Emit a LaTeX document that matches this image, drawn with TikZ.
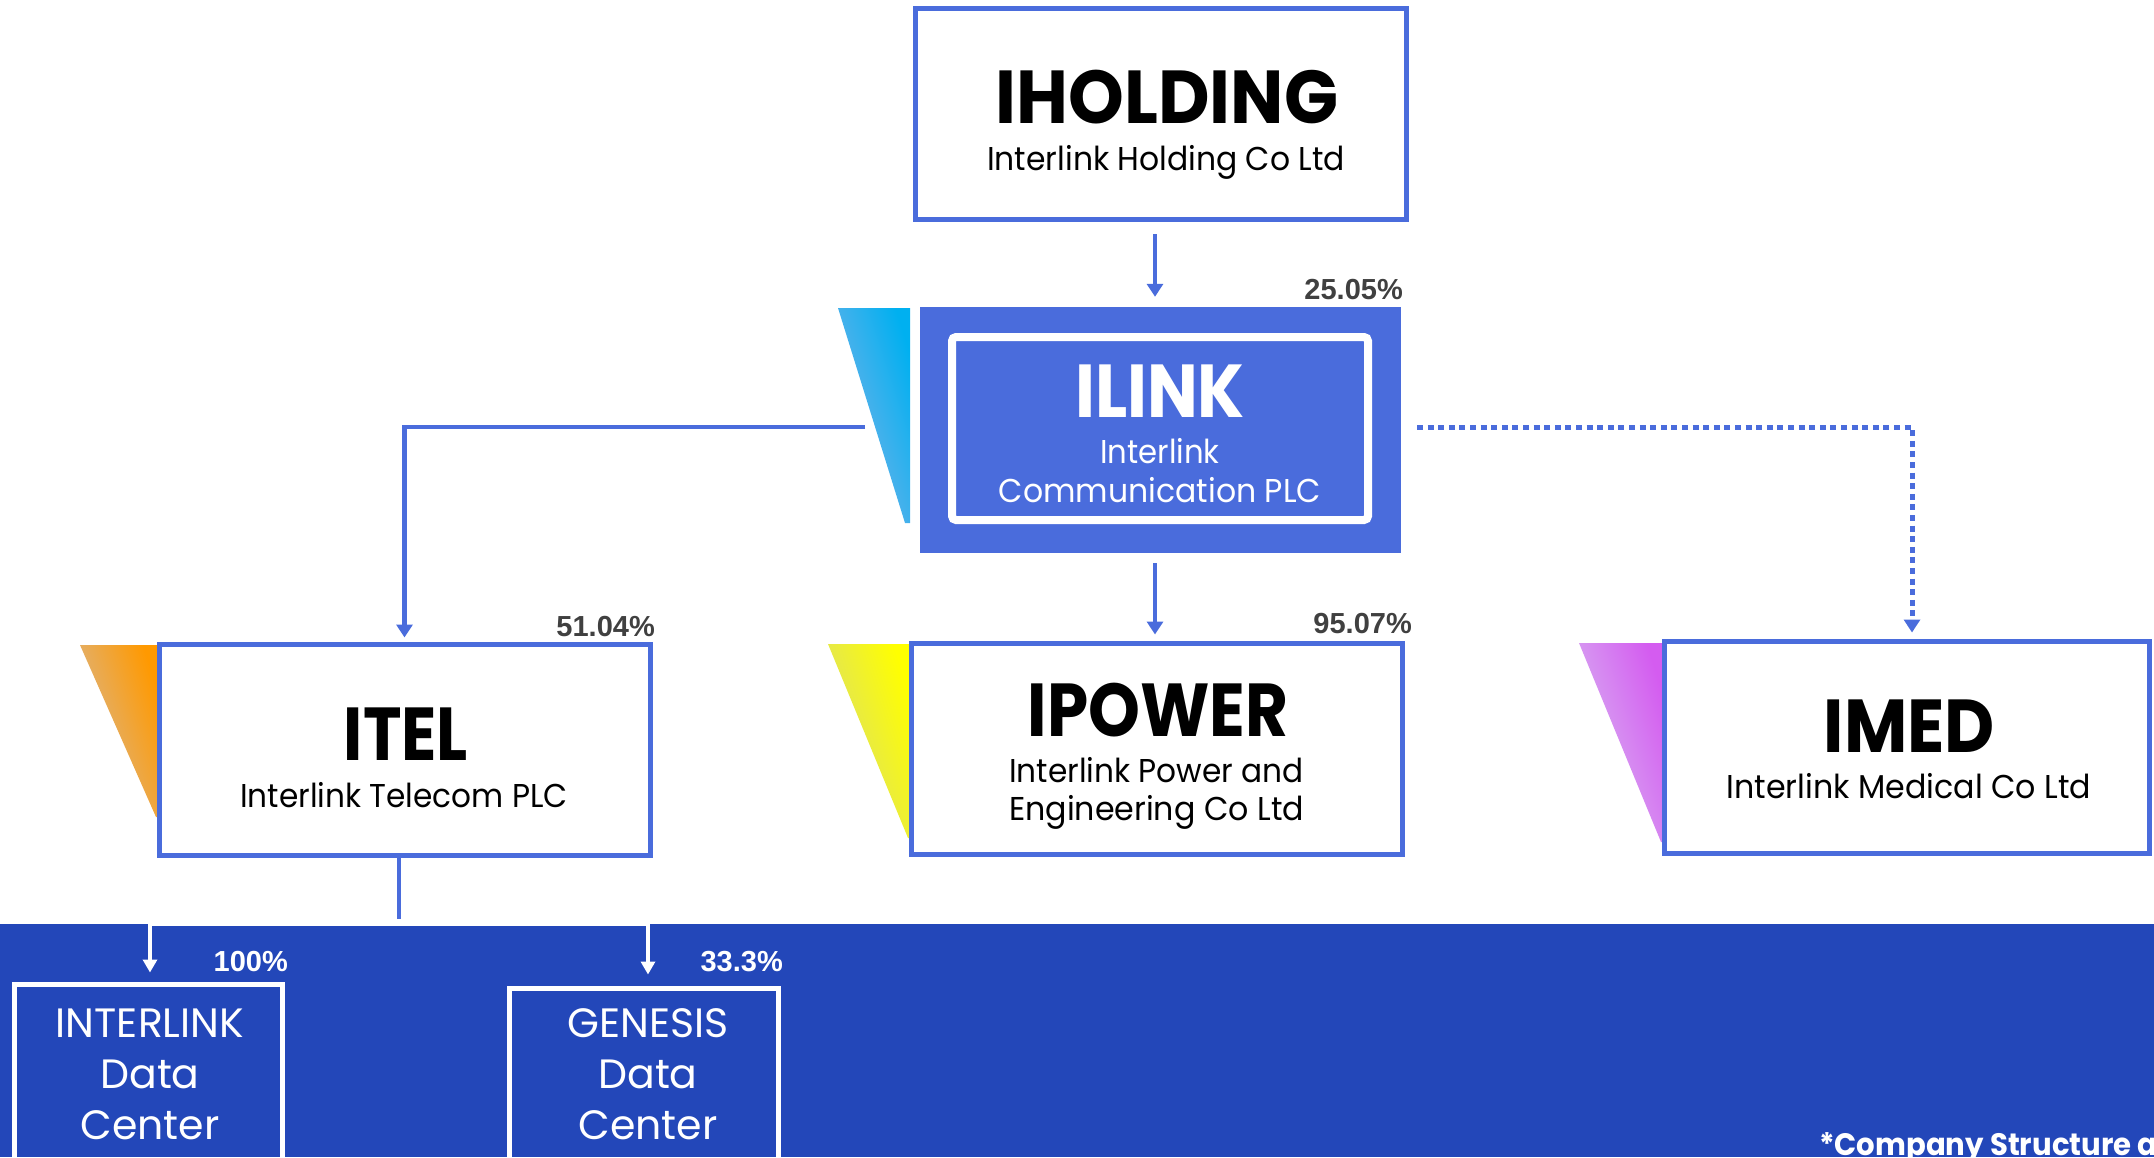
\documentclass[tikz,border=0pt]{standalone}
\usepackage{fontspec}
\usetikzlibrary{arrows.meta}
\newfontfamily\gfont{Poppins}
\newfontfamily\hfont{Liberation Sans}
\definecolor{boxblue}{RGB}{74,108,220}
\definecolor{bandblue}{RGB}{35,71,185}
\definecolor{pctgray}{RGB}{64,64,64}
\newcommand\hsc[2]{\scalebox{#1}[1]{#2}}
\tikzset{
  orgbox/.style={draw=boxblue, line width=5pt, fill=white, minimum width=491pt, minimum height=211pt, inner sep=0pt},
  dcbox/.style={draw=white, line width=5pt, minimum height=300pt, inner sep=0pt},
  title/.style={font=\gfont\bfseries\fontsize{75}{75}\selectfont, anchor=base, inner sep=0pt},
  sub/.style={font=\gfont\fontsize{33}{33}\selectfont, anchor=base, inner sep=0pt},
  dctext/.style={font=\gfont\fontsize{41}{41}\selectfont, text=white, anchor=base, inner sep=0pt},
  pct/.style={font=\hfont\bfseries\fontsize{29}{29}\selectfont, text=pctgray, anchor=base east, inner sep=0pt},
  conn/.style={draw=boxblue, line width=4.5pt, -{Triangle[width=16pt,length=13pt]}},
  dotconn/.style={draw=boxblue, line width=5pt, dash pattern=on 6pt off 4.6pt, -{Triangle[width=16pt,length=13pt]}},
  wconn/.style={draw=white, line width=3.5pt, -{Triangle[width=14pt,length=13pt]}},
  wedge/.style n args={2}{top color=#2, bottom color=#1, shading angle=-72},
}
\begin{document}
\begin{tikzpicture}[x=1pt,y=-1pt]
\useasboundingbox (0,0) rectangle (2154,1157);
% bottom band
\fill[bandblue] (0,924) rectangle (2154,1157);
% gradient wedges
\shade[wedge={{rgb,255:red,130;green,178;blue,232}}{{rgb,255:red,0;green,176;blue,240}}] (838,308) -- (910,308) -- (910,523) -- (905,523) -- cycle;
\shade[wedge={{rgb,255:red,214;green,186;blue,156}}{{rgb,255:red,255;green,153;blue,0}}] (80,645) -- (157,645) -- (157,817) -- (156,817) -- cycle;
\shade[wedge={{rgb,255:red,214;green,218;blue,120}}{{rgb,255:red,255;green,255;blue,0}}] (828,644) -- (909,644) -- (909,838) -- (908,838) -- cycle;
\shade[wedge={{rgb,255:red,216;green,188;blue,242}}{{rgb,255:red,212;green,92;blue,240}}] (1579,643) -- (1662,643) -- (1662,842) -- (1661,842) -- cycle;
% boxes
\node[orgbox] (ihold) at (1161,114) {};
\node[fill=boxblue, minimum width=481pt, minimum height=246pt, inner sep=0pt] (ilink) at (1160.5,430) {};
\node[draw=white, line width=8pt, rounded corners=4pt, minimum width=416pt, minimum height=183pt, inner sep=0pt] (ilinkin) at (1160,428.5) {};
\node[orgbox] (itel) at (404.5,750) {};
\node[orgbox] (ipower) at (1157,749) {};
\node[orgbox, minimum width=485pt, minimum height=212pt] (imed) at (1907,747.5) {};
\node[dcbox, minimum width=268pt] (idc) at (148.5,1134.5) {};
\node[dcbox, minimum width=269pt] (gdc) at (644,1138.5) {};
% texts
\node[title] (t1) at (1167,123) {\hsc{0.946}{IHOLDING}};
\node[sub] (s1) at (1166,170) {\hsc{0.952}{Interlink Holding Co Ltd}};
\node[title, text=white] (t2) at (1160,417) {\hsc{0.9}{ILINK}};
\node[sub, text=white] (s2a) at (1160,463) {\hsc{0.93}{Interlink}};
\node[sub, text=white] (s2b) at (1160,502) {\hsc{0.955}{Communication PLC}};
\node[title] (t3) at (406,760) {\hsc{0.87}{ITEL}};
\node[sub] (s3) at (404,807) {\hsc{0.944}{Interlink Telecom PLC}};
\node[title] (t4) at (1158,736) {\hsc{0.88}{IPOWER}};
\node[sub] (s4a) at (1156.5,782) {\hsc{0.945}{Interlink Power and}};
\node[sub] (s4b) at (1156.5,820) {\hsc{0.96}{Engineering Co Ltd}};
\node[title] (t5) at (1909.5,752) {\hsc{0.92}{IMED}};
\node[sub] (s5) at (1909,798) {\hsc{0.96}{Interlink Medical Co Ltd}};
\node[dctext] (d1a) at (150,1037) {INTERLINK};
\node[dctext] (d1b) at (150,1088) {Data};
\node[dctext] (d1c) at (150,1139) {Center};
\node[dctext] (d2a) at (648,1037) {GENESIS};
\node[dctext] (d2b) at (648,1088) {Data};
\node[dctext] (d2c) at (648,1139) {Center};
% percentages
\node[pct] (p1) at (1403,299) {25.05\%};
\node[pct] (p2) at (655,636) {51.04\%};
\node[pct] (p3) at (1412,633) {95.07\%};
\node[pct, text=white] (p4) at (288,971) {100\%};
\node[pct, text=white] (p5) at (783,971) {33.3\%};
\node[font=\gfont\bfseries\fontsize{31}{31}\selectfont, text=white, anchor=base west, inner sep=0pt] (note) at (1819,1155) {\hsc{0.94}{*Company Structure a}};
% connectors
\coordinate (lk) at (865,427);
\coordinate (dt) at (1417,427);
\coordinate (stubend) at (399,919);
\coordinate (bus) at (399,924);
\draw[conn] ([xshift=-6pt,yshift=-12pt]ihold.south) -- ([xshift=-5.5pt,yshift=10pt]ilink.north);
\draw[conn] (lk) -| ([yshift=4.5pt]itel.north);
\draw[conn] ([xshift=-5.5pt,yshift=-10pt]ilink.south) -- ([xshift=-2pt,yshift=6.5pt]ipower.north);
\draw[dotconn] (dt) -| ([xshift=5pt,yshift=6.5pt]imed.north);
\draw[draw=boxblue, line width=4.5pt] ([xshift=-5.5pt]itel.south) -- (stubend);
\draw[wconn] (bus) -| ([xshift=1.5pt,yshift=9.5pt]idc.north);
\draw[wconn] (bus) -| ([xshift=4pt,yshift=11.5pt]gdc.north);
\end{tikzpicture}
\end{document}
